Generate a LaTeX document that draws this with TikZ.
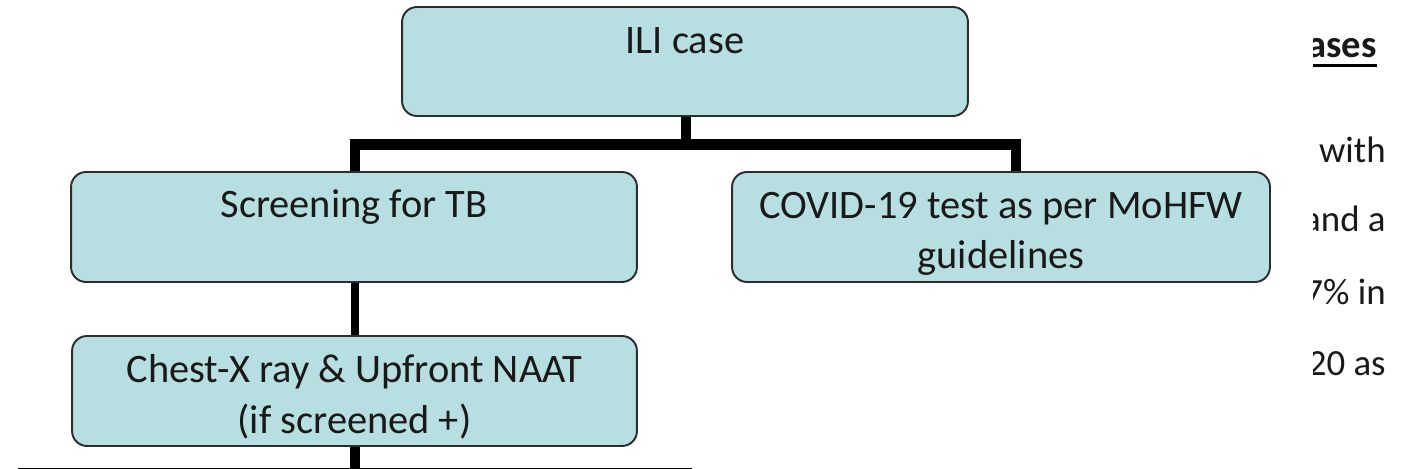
\documentclass[tikz,border=0pt]{standalone}
\usepackage{fontspec}
\setmainfont{Carlito}
\usepackage{xcolor}
\definecolor{boxfill}{RGB}{183,223,226}
\definecolor{boxline}{RGB}{45,45,45}

\begin{document}
\begin{tikzpicture}[x=0.02cm, y=-0.02cm,
    stepbox/.style={draw=boxline, line width=1.1pt, fill=boxfill, rounded corners=8.5pt, inner sep=0pt},
    boxtext/.style={font=\fontsize{23}{29}\selectfont, text=black!90, align=center, inner sep=0pt, anchor=base},
    sidetext/.style={font=\fontsize{21}{25}\selectfont, text=black!90, inner sep=0pt, anchor=base east},
    link/.style={line width=6.2pt, black}]
    % Fix the size of the page
    \clip (0,0) rectangle (1402,469);

    % Draw the boxes
    \node[stepbox, minimum width=11.32cm, minimum height=2.18cm] (ili) at (685,61.5) {};
    \node[stepbox, minimum width=11.32cm, minimum height=2.2cm] (scr) at (354,227) {};
    \node[stepbox, minimum width=10.76cm, minimum height=2.2cm] (cov) at (1001,227) {};
    \node[stepbox, minimum width=11.3cm, minimum height=2.2cm] (cxr) at (354.5,391) {};

    % (base of a two-line text is its last line)
    \node[boxtext] (ilitxt) at (685,54) {ILI case};
    \node[boxtext] (scrtxt) at (354,218) {Screening for TB};
    \node[boxtext] (covtxt) at (1001,269) {COVID-19 test as per MoHFW\\guidelines};
    \node[boxtext] (cxrtxt) at (354.5,433) {Chest-X ray \& Upfront NAAT\\(if screened +)};

    % Draw the connectors
    \coordinate (split) at (686,144.5);
    \coordinate (tbdrop) at (355,144.5);
    \coordinate (covdrop) at (1016,144.5);
    \draw[link] (ili.south -| split) -- (split);
    \draw[link] (tbdrop |- scr.north) -- (tbdrop) -- (covdrop) -- (covdrop |- cov.north);
    \draw[link, line width=5pt] (scr.south -| tbdrop) -- (cxr.north -| tbdrop);
    \coordinate (cxrjoin) at (355,473);
    \coordinate (leftend) at (18,473);
    \coordinate (rightend) at (692,473);
    \draw[link] (cxr.south -| cxrjoin) -- (cxrjoin);
    \draw[link] (leftend) -- (rightend);

    % Text of the page beside the chart
    \begin{scope}
    \clip (1313,0) rectangle (1402,469);
    \node[sidetext, font=\fontsize{22}{26}\selectfont\bfseries] (head) at (1377,58) {cases};
    \draw[line width=1.7pt] ([yshift=-4.5pt]head.base west) -- ([yshift=-4.5pt]head.base east);
    \node[sidetext] (line1) at (1386,163) {with};
    \node[sidetext] (line2) at (1386,232) {and a};
    \node[sidetext] (line3) at (1386,305) {7\% in};
    \node[sidetext] (line4) at (1386,375) {20 as};
    \end{scope}
\end{tikzpicture}
\end{document}
